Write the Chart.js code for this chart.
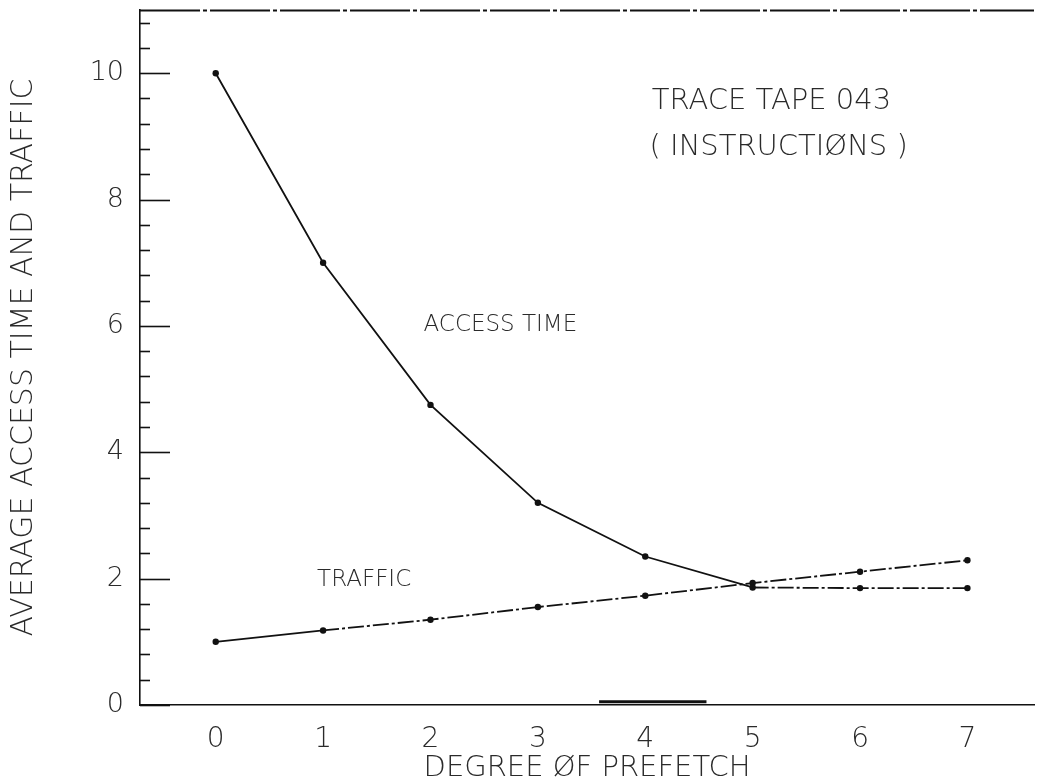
<!DOCTYPE html>
<html><head><meta charset="utf-8">
<script src="https://cdn.jsdelivr.net/npm/chart.js@4.4.1/dist/chart.umd.min.js"></script>
<style>html,body{margin:0;padding:0;background:#fff;}#wrap{width:1038px;height:783px;}</style>
</head><body><div id="wrap"><canvas id="c" width="1038" height="783"></canvas></div>
<script>
// ---- data ----
const degrees = [0, 1, 2, 3, 4, 5, 6, 7];
const accessTime = [10.0, 7.0, 4.75, 3.2, 2.35, 1.86, 1.85, 1.85];
const traffic = [1.0, 1.18, 1.35, 1.55, 1.73, 1.93, 2.11, 2.29];
const xTickValues = [0, 1, 2, 3, 4, 5, 6, 7];
const yTickValues = [0, 2, 4, 6, 8, 10];
const yMinorTickValues = [0.4, 0.8, 1.2, 1.6, 2.4, 2.8, 3.2, 3.6, 4.4, 4.8, 5.2, 5.6, 6.4, 6.8, 7.2, 7.6, 8.4, 8.8, 9.2, 9.6, 10.4, 10.8];
const scanMarkX = [3.57, 4.57];
const scanMarkY = [0.05, 0.05];
const noteTexts = ['TRACE TAPE 043', '( INSTRUCTIØNS )', 'ACCESS TIME', 'TRAFFIC'];
const noteX = [4.06, 4.04, 1.935, 0.944];
const noteY = [9.56, 8.83, 6.02, 1.98];

// ---- styling ----
const FONT = "'DejaVu Sans', 'Liberation Sans', sans-serif";
const INK = '#111';
const TEXT_INK = '#2a2a2a';
const dataDash = [16, 3, 3, 3];
const axisDash = [60, 3, 4, 3];

const toPoints = (xs, ys) => xs.map((x, i) => ({x: x, y: ys[i]}));

const framePlugin = {
  id: 'frameTicksNotes',
  afterDraw(chart) {
    const {ctx, chartArea} = chart;
    const xs = chart.scales.x, ys = chart.scales.y;
    ctx.save();
    // top frame line
    ctx.strokeStyle = INK;
    ctx.lineWidth = 1.8;
    ctx.setLineDash(axisDash);
    ctx.beginPath();
    ctx.moveTo(chartArea.left, chartArea.top + 0.5);
    ctx.lineTo(chartArea.right, chartArea.top + 0.5);
    ctx.stroke();
    ctx.setLineDash([]);
    // inward y ticks
    const left = ys.right;
    ctx.lineWidth = 1.6;
    yTickValues.forEach(v => {
      const py = Math.round(ys.getPixelForValue(v)) + 0.5;
      ctx.beginPath(); ctx.moveTo(left, py); ctx.lineTo(left + 30, py); ctx.stroke();
    });
    yMinorTickValues.forEach(v => {
      const py = Math.round(ys.getPixelForValue(v)) + 0.5;
      ctx.beginPath(); ctx.moveTo(left, py); ctx.lineTo(left + 10, py); ctx.stroke();
    });
    // text notes
    ctx.fillStyle = TEXT_INK;
    ctx.textAlign = 'left';
    ctx.textBaseline = 'middle';
    const sizes = [29, 29, 23, 23];
    noteTexts.forEach((t, i) => {
      ctx.font = '200 ' + sizes[i] + 'px ' + FONT;
      ctx.fillText(t, xs.getPixelForValue(noteX[i]), ys.getPixelForValue(noteY[i]));
    });
    ctx.restore();
  }
};

new Chart(document.getElementById('c'), {
  type: 'line',
  data: {
    datasets: [
      {
        label: 'Access time',
        data: toPoints(degrees, accessTime),
        borderColor: INK, backgroundColor: INK,
        borderWidth: 1.8, pointRadius: 3.2, pointBorderWidth: 0,
        tension: 0,
        segment: { borderDash: c => (c.p0DataIndex >= 5 ? dataDash : undefined) }
      },
      {
        label: 'Traffic',
        data: toPoints(degrees, traffic),
        borderColor: INK, backgroundColor: INK,
        borderWidth: 1.8, pointRadius: 3.2, pointBorderWidth: 0,
        tension: 0,
        segment: { borderDash: c => (c.p0DataIndex >= 1 ? dataDash : undefined) }
      },
      {
        label: 'scan mark',
        data: toPoints(scanMarkX, scanMarkY),
        borderColor: INK, borderWidth: 3, pointRadius: 0
      }
    ]
  },
  options: {
    responsive: false,
    animation: false,
    devicePixelRatio: 1,
    layout: { padding: { top: 10, right: -5, left: 0, bottom: 0 } },
    plugins: { legend: { display: false }, tooltip: { enabled: false } },
    scales: {
      x: {
        type: 'linear', min: -0.705, max: 7.62,
        afterBuildTicks: s => { s.ticks = xTickValues.map(v => ({value: v})); },
        afterFit: s => { s.height = 78; s.paddingLeft = 0; s.paddingRight = 0; },
        grid: { display: false },
        border: { display: true, color: INK, width: 1.6, dash: axisDash },
        ticks: { color: TEXT_INK, padding: 10, font: { family: FONT, size: 28, weight: '200' }, maxRotation: 0 },
        title: { display: true, text: 'DEGREE ØF PREFETCH', color: TEXT_INK, padding: { top: 0, bottom: -3 },
                 font: { family: FONT, size: 29, weight: '200' } }
      },
      y: {
        type: 'linear', min: 0, max: 11,
        afterBuildTicks: s => { s.ticks = yTickValues.map(v => ({value: v})); },
        afterFit: s => { s.width = 140; s.paddingTop = 0; s.paddingBottom = 0; },
        grid: { display: false },
        border: { display: true, color: INK, width: 1.6 },
        ticks: { color: TEXT_INK, padding: 8, font: { family: FONT, size: 27, weight: '200' } },
        title: { display: true, text: 'AVERAGE ACCESS TIME AND TRAFFIC', color: TEXT_INK, padding: { top: 6, bottom: 0 },
                 font: { family: FONT, size: 30, weight: '200' } }
      }
    }
  },
  plugins: [framePlugin]
});
</script></body></html>
